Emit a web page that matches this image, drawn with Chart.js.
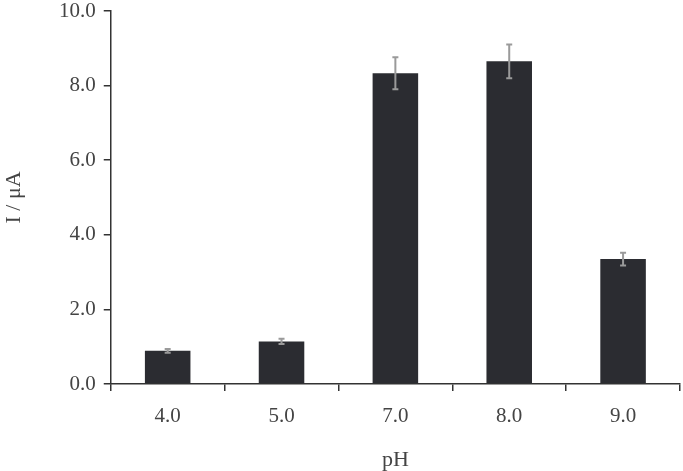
<!DOCTYPE html>
<html>
<head>
<meta charset="utf-8">
<script src="https://cdn.jsdelivr.net/npm/chart.js@4/dist/chart.umd.min.js"></script>
<style>
html,body{margin:0;padding:0;background:#fff;}
#wrap{width:683px;height:471px;}
</style>
</head>
<body>
<div id="wrap"><canvas id="c" width="683" height="471"></canvas></div>
<script>
const categories = ["4.0", "5.0", "7.0", "8.0", "9.0"];
const currents = [0.89, 1.14, 8.33, 8.65, 3.35];
const errors = [0.05, 0.07, 0.43, 0.45, 0.17];
const yTicks = [0, 2, 4, 6, 8, 10];

const FAM = "'Liberation Serif', 'Times New Roman', serif";

const errorBarPlugin = {
  id: 'errorBars',
  afterDatasetsDraw(chart) {
    const ctx = chart.ctx;
    const meta = chart.getDatasetMeta(0);
    const y = chart.scales.y;
    ctx.save();
    ctx.strokeStyle = '#9a9a9a';
    ctx.lineWidth = 2;
    meta.data.forEach((bar, i) => {
      const v = currents[i], e = errors[i];
      const yt = y.getPixelForValue(v + e);
      const yb = y.getPixelForValue(v - e);
      const x = bar.x;
      ctx.beginPath();
      ctx.moveTo(x, yt); ctx.lineTo(x, yb);
      ctx.moveTo(x - 3, yt); ctx.lineTo(x + 3, yt);
      ctx.moveTo(x - 3, yb); ctx.lineTo(x + 3, yb);
      ctx.stroke();
    });
    ctx.restore();
  }
};

function draw() {
  new Chart(document.getElementById('c'), {
    type: 'bar',
    data: {
      labels: categories,
      datasets: [{
        data: currents,
        backgroundColor: '#2b2c31',
        borderWidth: 0,
        categoryPercentage: 0.4,
        barPercentage: 1.0
      }]
    },
    options: {
      responsive: false,
      animation: false,
      layout: { padding: { top: 1, right: 3, left: 0, bottom: 0 } },
      plugins: { legend: { display: false }, tooltip: { enabled: false } },
      scales: {
        x: {
          offset: true,
          afterFit(axis) { axis.height = 87; },
          grid: { display: true, drawOnChartArea: false, offset: true, tickLength: 7, color: '#333', lineWidth: 1.5 },
          border: { display: true, color: '#333', width: 1.5 },
          ticks: { color: '#444', font: { family: FAM, size: 21, lineHeight: 1 }, padding: 15 },
          title: { display: true, text: 'pH', color: '#444', font: { family: FAM, size: 22, lineHeight: 1 }, padding: { top: 7, bottom: 0 } }
        },
        y: {
          min: 0, max: 10,
          afterBuildTicks(axis) { axis.ticks = yTicks.map(v => ({ value: v })); },
          afterFit(axis) { axis.paddingTop = 11; axis.paddingBottom = 11; },
          grid: { display: true, drawOnChartArea: false, tickLength: 7, color: '#333', lineWidth: 1.5 },
          border: { display: true, color: '#333', width: 1.5 },
          ticks: { color: '#444', font: { family: FAM, size: 21, lineHeight: 1 }, padding: 8, callback: v => Number(v).toFixed(1) },
          title: { display: true, text: 'I / μA', color: '#444', font: { family: FAM, size: 22, lineHeight: 1 }, padding: { top: 3, bottom: 26 } }
        }
      }
    },
    plugins: [errorBarPlugin]
  });
}
if (document.fonts && document.fonts.load) {
  Promise.all([document.fonts.load("21px 'Liberation Serif'"), document.fonts.load("22px 'Liberation Serif'")]).then(draw, draw);
} else { draw(); }
</script>
</body>
</html>
